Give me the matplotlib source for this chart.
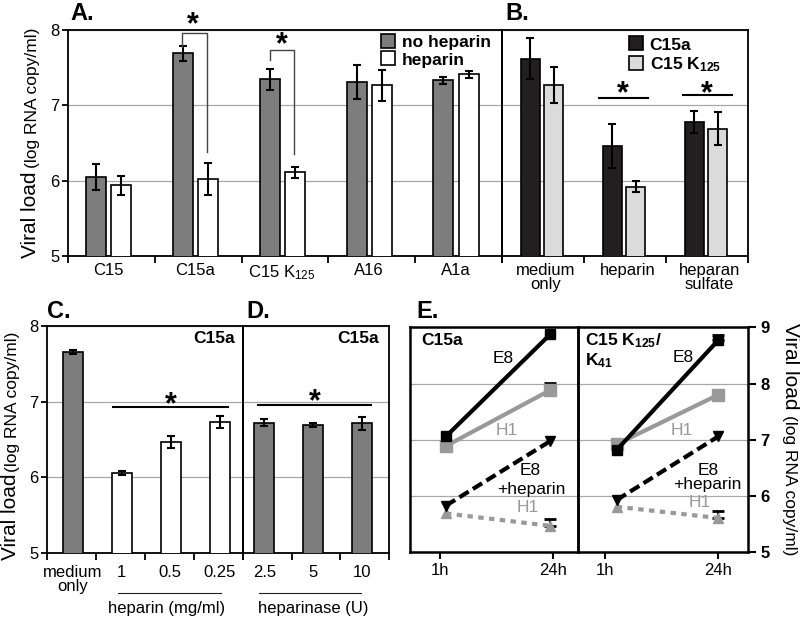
import numpy as np
import matplotlib
matplotlib.use("Agg")
import matplotlib.pyplot as plt
from matplotlib.lines import Line2D

plt.rcParams['font.family'] = ['Liberation Sans', 'DejaVu Sans']
plt.rcParams['mathtext.fontset'] = 'custom'
plt.rcParams['mathtext.rm'] = 'Liberation Sans'
plt.rcParams['mathtext.it'] = 'Liberation Sans:italic'
plt.rcParams['mathtext.bf'] = 'Liberation Sans:bold'

# ---------------- data ----------------
A_categories = ["C15", "C15a", "C15 K$_{125}$", "A16", "A1a"]
A_no_heparin = [6.05, 7.69, 7.345, 7.31, 7.33]
A_no_heparin_err = [0.17, 0.095, 0.14, 0.225, 0.05]
A_heparin = [5.94, 6.02, 6.11, 7.265, 7.41]
A_heparin_err = [0.125, 0.21, 0.07, 0.21, 0.05]

B_categories = ["medium\nonly", "heparin", "heparan\nsulfate"]
B_c15a = [7.62, 6.46, 6.78]
B_c15a_err = [0.27, 0.29, 0.15]
B_k125 = [7.27, 5.92, 6.69]
B_k125_err = [0.24, 0.07, 0.22]

C_categories = ["medium\nonly", "1", "0.5", "0.25"]
C_values = [7.656, 6.057, 6.467, 6.73]
C_err = [0.03, 0.027, 0.075, 0.08]

D_categories = ["2.5", "5", "10"]
D_values = [6.72, 6.69, 6.71]
D_err = [0.045, 0.03, 0.08]

E_times = ["1h", "24h"]
E1_E8 = [7.06, 8.88]
E1_H1 = [6.89, 7.885]
E1_H1_err = [0.0, 0.13]
E1_E8_hep = [5.83, 6.98]
E1_H1_hep = [5.69, 5.47]
E1_H1_hep_err = [0.0, 0.12]

E2_E8 = [6.82, 8.77]
E2_E8_err = [0.0, 0.09]
E2_H1 = [6.92, 7.80]
E2_E8_hep = [5.93, 7.06]
E2_H1_hep = [5.81, 5.61]
E2_H1_hep_err = [0.0, 0.13]

# ---------------- layout ----------------
W, H = 800, 618
fig = plt.figure(figsize=(8, 6.18), dpi=100)


def box(x0, y0, x1, y1):
    return [x0 / W, 1 - y1 / H, (x1 - x0) / W, (y1 - y0) / H]


axA = fig.add_axes(box(68, 30, 502, 256))
axB = fig.add_axes(box(502, 30, 748, 256))
axC = fig.add_axes(box(46.7, 326, 242.7, 552.7))
axD = fig.add_axes(box(242.7, 326, 389.3, 552.7))
axE1 = fig.add_axes(box(410, 327.3, 578, 552.3))
axE2 = fig.add_axes(box(578, 327.3, 748, 552.3))
for ax in (axA, axB, axC, axD, axE1, axE2):
    ax.patch.set_visible(False)

GRID = '#a8a8a8'
BARGRAY = '#7d7d7d'
EK = dict(lw=1.5, capthick=1.5, ecolor='black')


def style_bar_axes(ax, ncat, labels, label_off, pad, yticks=True):
    ax.set_xlim(-0.5, ncat - 0.5)
    ax.set_ylim(5, 8)
    for s in ax.spines.values():
        s.set_linewidth(1.3)
    ax.set_yticks([5, 6, 7, 8])
    ax.yaxis.grid(True, color=GRID, lw=0.9)
    ax.set_axisbelow(True)
    ax.set_xticks(np.arange(-0.5, ncat, 1))
    ax.set_xticklabels([])
    ax.set_xticks(np.arange(ncat) + label_off, labels, minor=True)
    ax.tick_params(axis='x', which='major', direction='out', length=5, width=1.3)
    ax.tick_params(axis='x', which='minor', length=0, labelsize=12, pad=pad)
    for lbl in ax.get_xticklabels(minor=True):
        lbl.set_linespacing(0.9)
    if yticks:
        ax.tick_params(axis='y', direction='out', length=4, width=1.3,
                       labelsize=12, pad=2)
    else:
        ax.tick_params(axis='y', length=0, labelleft=False)


def star(ax, x, y, fs=22):
    ax.annotate('*', xy=(x, y), xytext=(0, -0.24 * fs), textcoords='offset points',
                ha='center', va='center', fontsize=fs, fontweight='bold',
                annotation_clip=False)


# ---------------- Panel A ----------------
xA = np.arange(len(A_categories))
axA.bar(xA - 0.175, A_no_heparin, 0.23, color=BARGRAY, edgecolor='black', lw=1.2,
        yerr=A_no_heparin_err, capsize=3.2, error_kw=EK, zorder=3)
axA.bar(xA + 0.115, A_heparin, 0.23, color='white', edgecolor='black', lw=1.2,
        yerr=A_heparin_err, capsize=3.2, error_kw=EK, zorder=3)
style_bar_axes(axA, len(A_categories), A_categories, -0.035, 5)
hA = [Line2D([], [], ls='none', marker='s', ms=10, mfc=BARGRAY, mec='black', mew=1.2),
      Line2D([], [], ls='none', marker='s', ms=10, mfc='white', mec='black', mew=1.2)]
axA.legend(hA, ['no heparin', 'heparin'], loc='upper left', bbox_to_anchor=(0.718, 0.985),
           frameon=False, prop=dict(weight='bold', size=12.5), handlelength=0.8,
           handletextpad=0.4, labelspacing=0.12, borderpad=0.1, borderaxespad=0)
# brackets
axA.plot([0.81, 0.81, 1.10, 1.10], [7.78, 7.956, 7.956, 6.38], color='#444444', lw=1, zorder=4)
axA.plot([1.827, 1.827, 2.10, 2.10], [7.60, 7.734, 7.734, 6.35], color='#444444', lw=1, zorder=4)
star(axA, 0.94, 8.166)
star(axA, 1.965, 7.89)

# ---------------- Panel B ----------------
xB = np.arange(len(B_categories))
axB.bar(xB - 0.155, B_c15a, 0.235, color='#231f20', edgecolor='black', lw=1.2,
        yerr=B_c15a_err, capsize=3.2, error_kw=EK, zorder=3)
axB.bar(xB + 0.13, B_k125, 0.235, color='#dcdbdc', edgecolor='black', lw=1.2,
        yerr=B_k125_err, capsize=3.2, error_kw=EK, zorder=3)
style_bar_axes(axB, len(B_categories), B_categories, 0.03, 5, yticks=False)
hB = [Line2D([], [], ls='none', marker='s', ms=10, mfc='#231f20', mec='black', mew=1.2),
      Line2D([], [], ls='none', marker='s', ms=10, mfc='#dcdbdc', mec='black', mew=1.2)]
axB.legend(hB, ['C15a', r'C15 K$_{\mathbf{125}}$'], loc='upper left',
           bbox_to_anchor=(0.508, 0.975), frameon=False,
           prop=dict(weight='bold', size=12.5), handlelength=0.8,
           handletextpad=0.4, labelspacing=0.15, borderpad=0.1, borderaxespad=0)
axB.plot([0.683, 1.277], [7.10, 7.10], color='black', lw=1.5)
axB.plot([1.707, 2.30], [7.137, 7.137], color='black', lw=1.5)
star(axB, 0.975, 7.25)
star(axB, 2.0, 7.25)

# ---------------- Panel C ----------------
xC = np.arange(len(C_categories))
axC.bar(xC + 0.04, C_values, 0.41, color=[BARGRAY] + ['white'] * 3, edgecolor='black',
        lw=1.2, yerr=C_err, capsize=3.2, error_kw=EK, zorder=3)
style_bar_axes(axC, len(C_categories), C_categories, 0.02, 9)
axC.plot([0.853, 3.19], [6.93, 6.93], color='black', lw=1.5)
star(axC, 2.03, 7.05)
axC.text(0.96, 0.946, 'C15a', transform=axC.transAxes, ha='right', va='center',
         fontsize=12.5, fontweight='bold')
tC = axC.get_xaxis_transform()
axC.plot([0.955, 3.05], [-0.176, -0.176], transform=tC, clip_on=False, color='#222222', lw=0.8)
axC.text(1.955, -0.244, 'heparin (mg/ml)', transform=tC, ha='center', va='center', fontsize=12)

# ---------------- Panel D ----------------
xD = np.arange(len(D_categories))
axD.bar(xD - 0.06, D_values, 0.40, color=BARGRAY, edgecolor='black', lw=1.2,
        yerr=D_err, capsize=3.2, error_kw=EK, zorder=3)
style_bar_axes(axD, len(D_categories), D_categories, -0.06, 9, yticks=False)
axD.plot([-0.193, 2.12], [6.95, 6.95], color='black', lw=1.5)
star(axD, 0.98, 7.09)
axD.text(0.932, 0.946, 'C15a', transform=axD.transAxes, ha='right', va='center',
         fontsize=12.5, fontweight='bold')
tD = axD.get_xaxis_transform()
axD.plot([-0.167, 1.93], [-0.176, -0.176], transform=tD, clip_on=False, color='#222222', lw=0.8)
axD.text(0.94, -0.244, 'heparinase (U)', transform=tD, ha='center', va='center', fontsize=12)

# ---------------- Panel E ----------------
EGRAY = '#999999'


def style_E(ax, xlim):
    ax.set_xlim(*xlim)
    ax.set_ylim(5, 9)
    ax.set_yticks([5, 6, 7, 8, 9])
    ax.yaxis.grid(True, color=GRID, lw=0.9)
    ax.set_axisbelow(True)
    ax.set_xticks([0, 1], E_times)
    ax.tick_params(axis='x', direction='out', length=5, width=1.5, labelsize=12, pad=3)
    for s in ax.spines.values():
        s.set_linewidth(1.8)


def draw_E(ax, xpos, e8, h1, e8h, h1h, errs):
    xpos = np.asarray(xpos, float)
    ax.plot(xpos, h1, color=EGRAY, lw=3, marker='s', ms=8.5, zorder=3)
    ax.plot(xpos, e8, color='black', lw=3, marker='s', ms=7.5, zorder=4)
    ax.plot(xpos, h1h, color=EGRAY, lw=3, ls=(0, (1.3, 1.3)), marker='^', ms=7.5, zorder=3)
    ax.plot(xpos, e8h, color='black', lw=3, ls=(0, (2.6, 1.2)), marker='v', ms=7.5, zorder=4)
    for vals, err in errs:
        vals = np.asarray(vals, float)
        err = np.asarray(err, float)
        m = err > 0
        ax.errorbar(xpos[m], vals[m], yerr=[np.zeros(m.sum()), err[m]], fmt='none',
                    ecolor='black', elinewidth=1.5, capsize=4, capthick=2, zorder=2)


style_E(axE1, (-0.266, 1.224))
axE1.tick_params(axis='y', left=False, labelleft=False)
draw_E(axE1, [0.053, 0.98], E1_E8, E1_H1, E1_E8_hep, E1_H1_hep,
       [(E1_H1, E1_H1_err), (E1_H1_hep, E1_H1_hep_err)])
axE1.text(-0.17, 8.77, 'C15a', ha='left', va='center', fontsize=12.5, fontweight='bold')
axE1.text(0.56, 8.45, 'E8', ha='center', va='center', fontsize=12.5)
axE1.text(0.59, 7.17, 'H1', ha='center', va='center', fontsize=12.5, color=EGRAY)
axE1.text(0.80, 6.46, 'E8', ha='center', va='center', fontsize=12.5)
axE1.text(0.81, 6.12, '+heparin', ha='center', va='center', fontsize=12.5)
axE1.text(0.78, 5.79, 'H1', ha='center', va='center', fontsize=12.5, color=EGRAY)

style_E(axE2, (-0.243, 1.264))
axE2.yaxis.tick_right()
axE2.tick_params(axis='y', right=True, left=False, labelright=True, labelleft=False,
                 direction='out', length=6, width=1.5, labelsize=12, pad=3)
for lbl in axE2.get_yticklabels():
    lbl.set_fontweight('bold')
draw_E(axE2, [0.10, 1.0], E2_E8, E2_H1, E2_E8_hep, E2_H1_hep,
       [(E2_E8, E2_E8_err), (E2_H1_hep, E2_H1_hep_err)])
axE2.text(-0.18, 8.77, r'C15 K$_{\mathbf{125}}$/', ha='left', va='center',
          fontsize=12.5, fontweight='bold')
axE2.text(-0.18, 8.40, r'K$_{\mathbf{41}}$', ha='left', va='center',
          fontsize=12.5, fontweight='bold')
axE2.text(0.69, 8.47, 'E8', ha='center', va='center', fontsize=12.5)
axE2.text(0.68, 7.17, 'H1', ha='center', va='center', fontsize=12.5, color=EGRAY)
axE2.text(0.91, 6.46, 'E8', ha='center', va='center', fontsize=12.5)
axE2.text(0.90, 6.20, '+heparin', ha='center', va='center', fontsize=12.5)
axE2.text(0.84, 5.88, 'H1', ha='center', va='center', fontsize=12.5, color=EGRAY)

# ---------------- figure texts ----------------
for lbl, x, y in [('A.', 70, 20), ('B.', 505, 20), ('C.', 46.7, 318.3),
                  ('D.', 246.7, 318.3), ('E.', 416, 318.3)]:
    fig.text(x / W, 1 - y / H, lbl, ha='left', va='baseline', fontsize=17, fontweight='bold')


def ylabel(xb, y_big, y_small, rot):
    kw = dict(rotation=rot, rotation_mode='anchor', ha='left', va='baseline')
    fig.text(xb / W, 1 - y_big / H, 'Viral load', fontsize=15, **kw)
    fig.text(xb / W, 1 - y_small / H, '(log RNA copy/ml)', fontsize=12.5, **kw)


ylabel(36.5, 258, 168, 90)
ylabel(16.5, 560, 472, 90)
ylabel(785, 323, 415, 270)

fig.savefig('out.png', dpi=100)
